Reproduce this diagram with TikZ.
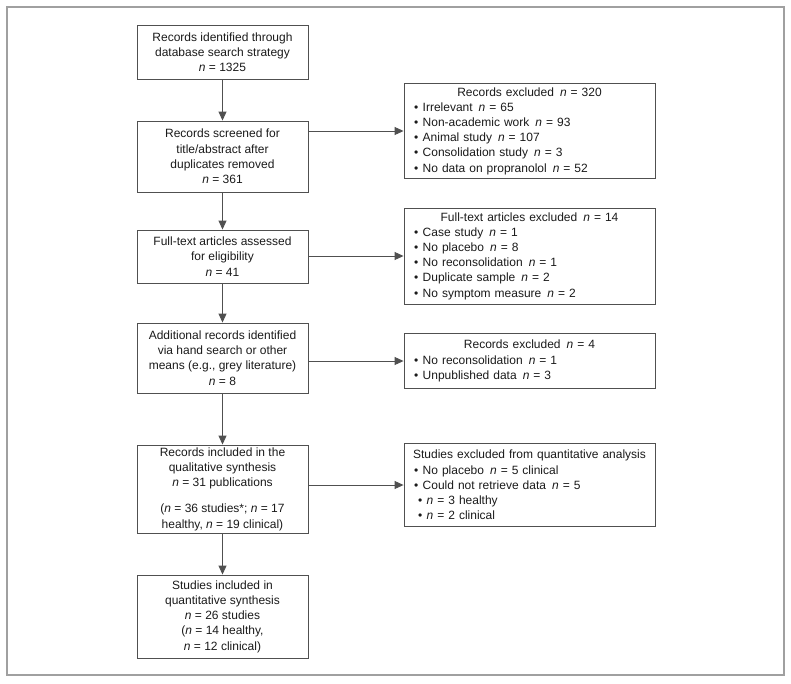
\documentclass[tikz,border=0pt]{standalone}
\usepackage{fontspec}
\setmainfont{Liberation Sans}
\usetikzlibrary{arrows.meta}
\definecolor{boxline}{HTML}{505050}
\definecolor{framecol}{HTML}{A0A0A0}
\definecolor{txt}{HTML}{1A1A1A}
\newcommand{\nn}{\textit{n}}
\newcommand{\bul}{\textbullet\hspace{4.5pt}}
\newcommand{\subbul}{\hspace*{4pt}\textbullet\hspace{4.5pt}}
\newcommand{\gp}{\hspace{6pt}}
\begin{document}
\begin{tikzpicture}[x=1pt,y=-1pt,
  every node/.style={font=\fontsize{12}{15.2}\selectfont, text=txt},
  lbox/.style={draw=boxline, line width=0.9pt, align=center, inner sep=0pt,
    minimum width=171pt},
  rbox/.style={draw=boxline, line width=0.9pt, align=left, inner xsep=10pt,
    inner ysep=0pt, text width=231pt},
  arr/.style={draw=boxline, line width=0.9pt, -{Triangle[length=9pt,width=8pt]}}
  ]
\useasboundingbox (0,0) rectangle (791,683);
\draw[framecol, line width=1.5pt] (7,7) rectangle (784,675);

\node[lbox, minimum height=54pt] (b1) at (222.5,52)
  {Records identified through\\database search strategy\\\nn{} = 1325};
\node[lbox, minimum height=71pt] (b2) at (222.5,156.5)
  {Records screened for\\title/abstract after\\duplicates removed\\\nn{} = 361};
\node[lbox, minimum height=53pt] (b3) at (222.5,256.5)
  {Full-text articles assessed\\for eligibility\\\nn{} = 41};
\node[lbox, minimum height=70pt] (b4) at (222.5,358)
  {Additional records identified\\via hand search or other\\means (e.g., grey literature)\\\nn{} = 8};
\node[lbox, minimum height=88pt] (b5) at (222.5,489)
  {Records included in the\\qualitative synthesis\\\nn{} = 31 publications\\[11pt]
   (\nn{} = 36 studies*; \nn{} = 17\\healthy, \nn{} = 19 clinical)};
\node[lbox, minimum height=83pt] (b6) at (222.5,616.5)
  {Studies included in\\quantitative synthesis\\\nn{} = 26 studies\\(\nn{} = 14 healthy,\\\nn{} = 12 clinical)};

\node[rbox, minimum height=95pt] (r1) at (529.5,131)
  {\makebox[231pt][c]{Records excluded\gp\nn{} = 320}\\
   \bul Irrelevant\gp\nn{} = 65\\
   \bul Non-academic work\gp\nn{} = 93\\
   \bul Animal study\gp\nn{} = 107\\
   \bul Consolidation study\gp\nn{} = 3\\
   \bul No data on propranolol\gp\nn{} = 52};
\node[rbox, minimum height=96pt] (r2) at (529.5,256)
  {\makebox[231pt][c]{Full-text articles excluded\gp\nn{} = 14}\\
   \bul Case study\gp\nn{} = 1\\
   \bul No placebo\gp\nn{} = 8\\
   \bul No reconsolidation\gp\nn{} = 1\\
   \bul Duplicate sample\gp\nn{} = 2\\
   \bul No symptom measure\gp\nn{} = 2};
\node[rbox, minimum height=55pt] (r3) at (529.5,361)
  {\makebox[231pt][c]{Records excluded\gp\nn{} = 4}\\
   \bul No reconsolidation\gp\nn{} = 1\\
   \bul Unpublished data\gp\nn{} = 3};
\node[rbox, minimum height=83pt] (r4) at (529.5,485)
  {\makebox[231pt][c]{Studies excluded from quantitative analysis}\\
   \bul No placebo\gp\nn{} = 5 clinical\\
   \bul Could not retrieve data\gp\nn{} = 5\\
   \subbul \nn{} = 3 healthy\\
   \subbul \nn{} = 2 clinical};

\draw[arr] (b1) -- (b2);
\draw[arr] (b2) -- (b3);
\draw[arr] (b3) -- (b4);
\draw[arr] (b4) -- (b5);
\draw[arr] (b5) -- (b6);

\draw[arr] (r1.west -| b2.east) -- (r1.west);
\draw[arr] (r2.west -| b3.east) -- (r2.west);
\draw[arr] (r3.west -| b4.east) -- (r3.west);
\draw[arr] (r4.west -| b5.east) -- (r4.west);
\end{tikzpicture}
\end{document}
